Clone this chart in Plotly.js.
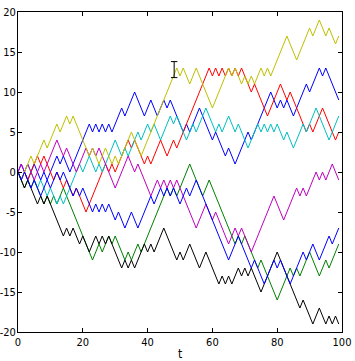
<!DOCTYPE html>
<html><head><meta charset="utf-8">
<script src="https://cdn.plot.ly/plotly-3.0.1.min.js"></script>
<style>html,body{margin:0;padding:0;background:#fff}#chart{width:355px;height:361px}</style>
</head><body><div id="chart"></div>
<script>
// Random walks: vertex steps (t) and values.
const blue1T = [0,1,3,5,7,8,9,12,13,14,16,22,23,24,25,26,27,28,29,32,33,36,39,41,43,45,46,47,51,52,53,56,60,61,64,65,67,71,72,78,80,81,82,83,85,89,90,93,94,95,99];
const blue1V = [0,1,-1,1,-1,0,-1,2,1,2,0,6,5,6,5,6,5,6,5,8,7,10,7,9,7,9,8,9,5,6,5,8,4,5,2,3,1,5,4,10,8,9,8,9,7,11,10,13,12,13,9];

const greenT = [0,2,3,4,5,8,9,10,11,12,14,15,23,25,26,28,29,30,33,34,35,37,38,46,47,48,49,53,57,59,67,68,69,70,74,75,76,80,84,85,86,87,90,93,95,96,99];
const greenV = [0,-2,-1,-2,-1,-4,-3,-4,-3,-4,-2,-3,-11,-9,-10,-8,-9,-8,-11,-10,-11,-9,-10,-2,-3,-2,-3,1,-3,-1,-9,-8,-9,-8,-12,-11,-12,-16,-12,-13,-12,-13,-10,-13,-11,-12,-9];

const redT = [0,1,2,3,6,7,8,11,12,14,15,17,18,21,27,28,29,30,34,35,36,39,40,41,44,46,48,49,59,60,61,62,63,64,65,66,67,68,69,72,73,77,81,82,83,84,89,90,91,94,98,99];
const redV = [0,-1,0,-1,2,1,2,-1,0,-2,-1,-3,-2,-5,1,0,1,0,4,3,4,1,2,1,4,2,4,3,13,12,13,12,13,12,13,12,13,12,13,10,11,7,11,10,9,10,5,6,5,8,4,5];

const cyanT = [0,1,3,6,7,9,10,12,13,14,19,20,22,24,25,26,28,30,32,33,34,37,38,40,41,42,44,47,48,49,52,54,55,58,61,62,63,65,67,68,71,74,75,76,77,78,79,80,81,82,83,85,88,89,90,92,96,99];
const cyanV = [0,-1,1,-2,-1,-3,-2,-4,-3,-4,1,0,2,0,1,0,2,4,2,3,2,5,4,6,5,6,4,7,6,7,4,6,5,8,5,6,5,7,5,6,3,6,5,6,5,6,5,6,5,4,5,3,6,5,6,8,4,7];

const magentaT = [0,1,2,3,4,5,6,7,8,12,14,15,18,21,22,23,24,25,30,34,36,37,38,41,43,44,45,46,47,48,49,50,55,58,59,60,61,65,67,68,69,72,79,82,86,87,88,89,92,93,94,95,97,99];
const magentaV = [0,1,0,1,0,-1,0,1,0,4,2,3,0,3,2,3,2,3,-2,2,0,1,0,-3,-1,-2,-1,-2,-1,-2,-1,-2,-7,-4,-5,-6,-5,-9,-7,-8,-7,-10,-3,-6,-2,-3,-2,-3,0,-1,0,-1,1,-1];

const yellowT = [0,1,4,5,8,9,12,13,15,16,17,22,23,25,27,29,30,31,35,38,49,50,51,53,55,60,65,66,67,69,70,71,72,73,75,76,77,78,83,86,90,91,93,95,96,98,99];
const yellowV = [0,-1,2,1,4,3,6,5,7,6,7,2,3,1,3,1,2,1,5,2,13,12,13,11,13,8,13,12,13,11,12,11,12,11,13,12,13,12,17,14,18,17,19,17,18,16,17];

const blackT = [0,2,3,6,7,8,9,14,15,16,17,19,20,22,24,25,26,27,28,32,33,34,35,36,39,40,41,42,45,49,50,51,53,56,58,62,63,64,65,66,68,69,70,71,72,75,80,87,88,91,93,95,96,97,98,99];
const blackV = [0,-2,-1,-4,-3,-4,-3,-8,-7,-8,-7,-9,-8,-10,-8,-9,-8,-9,-8,-12,-11,-12,-11,-12,-9,-10,-9,-10,-7,-11,-10,-11,-9,-12,-10,-14,-13,-14,-13,-14,-12,-13,-12,-13,-12,-15,-10,-17,-16,-19,-17,-19,-18,-19,-18,-19];

const blue2T = [0,1,2,3,4,5,6,7,9,10,12,13,14,17,18,19,20,23,24,25,26,27,28,30,31,33,35,37,41,42,44,45,46,47,48,50,52,53,55,65,68,72,73,76,79,80,81,84,88,89,91,93,96,97,99];
const blue2V = [0,-1,0,-1,-2,-1,-2,-3,-1,-2,0,-1,0,-3,-2,-3,-2,-5,-4,-5,-4,-5,-4,-6,-5,-7,-5,-7,-3,-4,-2,-3,-2,-3,-2,-4,-2,-3,-1,-11,-8,-12,-11,-14,-11,-12,-11,-14,-10,-11,-9,-11,-8,-9,-7];

const xTicks = [0,20,40,60,80,100];
const yTicks = [-20,-15,-10,-5,0,5,10,15,20];
const xTitle = 't';

const series = [
  [blue1T, blue1V, '#0000ff'],
  [greenT, greenV, '#008000'],
  [redT, redV, '#ff0000'],
  [cyanT, cyanV, '#00bfbf'],
  [magentaT, magentaV, '#bf00bf'],
  [yellowT, yellowV, '#bfbf00'],
  [blackT, blackV, '#000000'],
  [blue2T, blue2V, '#0000ff']
];

const traces = series.map(s => ({
  x: s[0], y: s[1], type: 'scatter', mode: 'lines',
  line: {color: s[2], width: 1}, hoverinfo: 'skip', showlegend: false
}));

const tickFamily = '"DejaVu Sans Condensed", "Liberation Sans Narrow", "DejaVu Sans", sans-serif';

const axisCommon = {
  showgrid: false, zeroline: false, showline: true, linecolor: '#000', linewidth: 1,
  mirror: 'ticks', ticks: 'inside', ticklen: 4, tickcolor: '#000', tickwidth: 1,
  tickfont: {family: tickFamily, size: 11, color: '#000'}
};

// I-beam mouse cursor visible in the screenshot
const cur = {t: 48.2, lo: 11.8, hi: 13.8, w: 1.0};
const curLine = {color: '#000', width: 1};

const layout = {
  width: 355, height: 361,
  margin: {l: 18, r: 13, t: 12, b: 29},
  paper_bgcolor: '#fff', plot_bgcolor: '#fff',
  xaxis: Object.assign({}, axisCommon, {
    range: [0, 100], tickvals: xTicks, ticktext: xTicks.map(String),
    title: {text: xTitle, font: {family: tickFamily, size: 12, color: '#000'}, standoff: 2}
  }),
  yaxis: Object.assign({}, axisCommon, {
    range: [-20, 20], tickvals: yTicks, ticktext: yTicks.map(v => (v < 0 ? '-' : '') + Math.abs(v)),
    ticklabelstandoff: -1
  }),
  shapes: [
    {type: 'line', xref: 'x', yref: 'y', x0: cur.t, x1: cur.t, y0: cur.lo, y1: cur.hi, line: curLine},
    {type: 'line', xref: 'x', yref: 'y', x0: cur.t - cur.w, x1: cur.t + cur.w, y0: cur.hi, y1: cur.hi, line: curLine},
    {type: 'line', xref: 'x', yref: 'y', x0: cur.t - cur.w, x1: cur.t + cur.w, y0: cur.lo, y1: cur.lo, line: curLine}
  ]
};

Plotly.newPlot('chart', traces, layout, {staticPlot: true, displayModeBar: false});
</script>
</body></html>
